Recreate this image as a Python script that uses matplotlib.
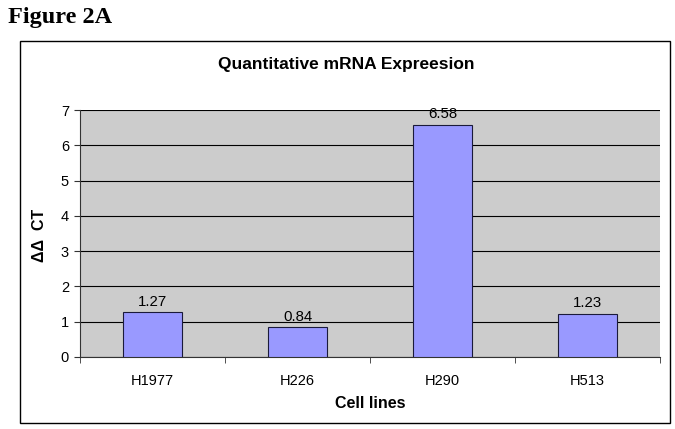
import matplotlib
matplotlib.use("Agg")
import matplotlib.pyplot as plt
from matplotlib.patches import Rectangle

categories = ["H1977", "H226", "H290", "H513"]
values = [1.27, 0.84, 6.58, 1.23]
labels = ["1.27", "0.84", "6.58", "1.23"]
yticks = [0, 1, 2, 3, 4, 5, 6, 7]

plt.rcParams['font.family'] = ['Liberation Sans', 'DejaVu Sans']

W, H = 675, 429
fig = plt.figure(figsize=(W / 100, H / 100), dpi=100)

# outer chart border
fig.patches.append(Rectangle((20 / W, 1 - 423 / H), (670 - 20) / W, (423 - 41) / H,
                             transform=fig.transFigure, fill=False, edgecolor='black',
                             linewidth=1.0))

fig.text(8 / W, 1 - 18 / H, "Figure 2A", family=['Liberation Serif'], fontweight='bold',
         fontsize=17.5, va='center', ha='left')

ax = fig.add_axes([80 / W, 1 - 357 / H, (660 - 80) / W, (357 - 110) / H])
ax.set_facecolor('#cccccc')
x = list(range(len(categories)))
ax.bar(x, values, width=0.41, color='#9999ff', edgecolor='#1a1a3a', linewidth=0.8, zorder=3)
for xi, v, lab in zip(x, values, labels):
    ax.annotate(lab, (xi, v), xytext=(0, 2.5), textcoords='offset points', ha='center',
                va='bottom', fontsize=10.8, zorder=4)

ax.set_xlim(-0.5, len(categories) - 0.5)
ax.set_ylim(0, 7)
ax.set_yticks(yticks)
ax.yaxis.grid(True, color='black', linewidth=0.8, zorder=1)
ax.set_axisbelow(True)
ax.set_xticks(x)
ax.set_xticklabels(categories, fontsize=10.5)
ax.tick_params(axis='x', length=0, pad=12)
ax.set_xticks([i - 0.5 for i in range(len(categories) + 1)], minor=True)
ax.tick_params(axis='x', which='minor', length=4, direction='out', color='#333333')
ax.tick_params(axis='y', length=4, direction='out', labelsize=10.5, color='#333333', pad=4)
for s in ['top', 'right']:
    ax.spines[s].set_visible(False)
ax.spines['left'].set_color('#333333')
ax.spines['bottom'].set_color('#333333')

fig.text(346 / W, 1 - 65 / H, "Quantitative mRNA Expreesion", fontweight='bold',
         fontsize=12.5, ha='center', va='center')
fig.text(370 / W, 1 - 403 / H, "Cell lines", fontweight='bold', fontsize=11.5,
         ha='center', va='center')
fig.text(40 / W, 1 - 235 / H, "ΔΔ  CT", fontweight='bold', fontsize=11.5,
         ha='center', va='center', rotation=90)

fig.savefig("out.png", dpi=100)
